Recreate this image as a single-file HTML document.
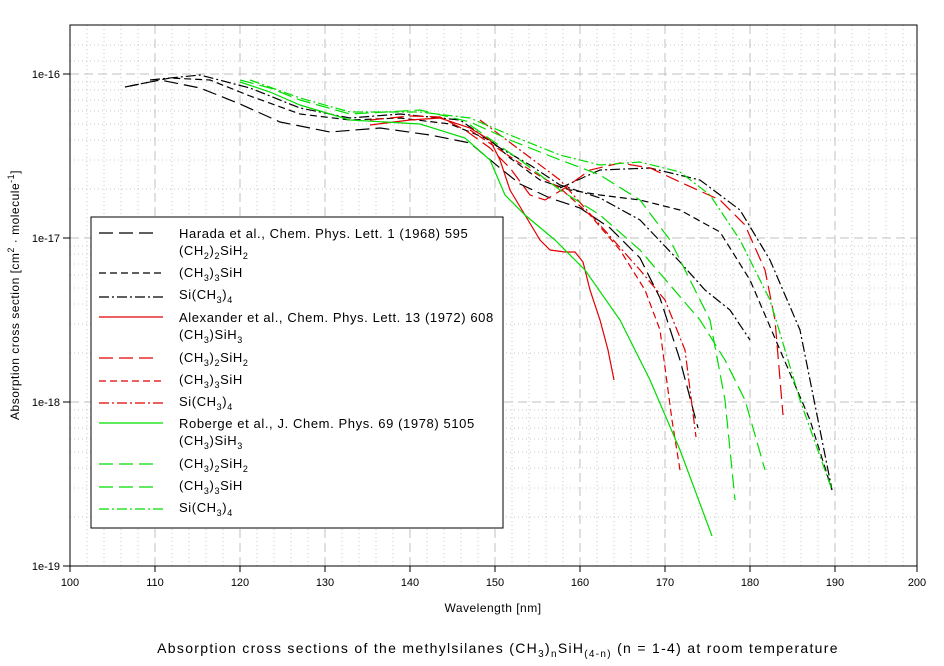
<!DOCTYPE html>
<html><head><meta charset="utf-8"><style>
body{margin:0;background:#fff;}
svg{display:block;font-family:"Liberation Sans",sans-serif;}
.lg{font-size:13px;fill:#000;letter-spacing:0.6px;}
</style></head><body>
<svg width="944" height="666" viewBox="0 0 944 666" xmlns="http://www.w3.org/2000/svg">
<rect width="944" height="666" fill="#fff"/>
<g stroke="#c8c8c8" stroke-width="1" stroke-dasharray="1,3" fill="none">
<path d="M87 25V566M104 25V566M121 25V566M138 25V566M172 25V566M189 25V566M206 25V566M223 25V566M257 25V566M274 25V566M291 25V566M308 25V566M342 25V566M359 25V566M376 25V566M393 25V566M427 25V566M444 25V566M461 25V566M478 25V566M512 25V566M529 25V566M546 25V566M563 25V566M597 25V566M614 25V566M631 25V566M648 25V566M682 25V566M699 25V566M716 25V566M733 25V566M767 25V566M784 25V566M801 25V566M818 25V566M852 25V566M869 25V566M886 25V566M903 25V566"/>
<path d="M70 517H917M70 488H917M70 468H917M70 452H917M70 439H917M70 428H917M70 418H917M70 410H917M70 353H917M70 324H917M70 304H917M70 288H917M70 275H917M70 264H917M70 254H917M70 246H917M70 189H917M70 160H917M70 140H917M70 124H917M70 111H917M70 100H917M70 90H917M70 82H917M70 45H917M70 61H917"/>
</g>
<g stroke="#c0c0c0" stroke-width="1" stroke-dasharray="9,5" fill="none">
<path d="M155 25V566M240 25V566M325 25V566M410 25V566M495 25V566M580 25V566M665 25V566M750 25V566M835 25V566"/>
<path d="M70 74H917M70 238H917M70 402H917"/>
</g>
<rect x="70" y="25" width="847" height="541" fill="none" stroke="#000" stroke-width="1"/>
<g stroke="#000"><path d="M63 74H70M63 238H70M63 402H70M63 566H70M70 566V572M155 566V572M240 566V572M325 566V572M410 566V572M495 566V572M580 566V572M665 566V572M750 566V572M835 566V572M917 566V572"/></g>
<g font-size="11" text-anchor="end"><text x="60" y="78">1e-16</text><text x="60" y="242">1e-17</text><text x="60" y="406">1e-18</text><text x="60" y="570">1e-19</text></g>
<g font-size="11" text-anchor="middle"><text x="70" y="586">100</text><text x="155" y="586">110</text><text x="240" y="586">120</text><text x="325" y="586">130</text><text x="410" y="586">140</text><text x="495" y="586">150</text><text x="580" y="586">160</text><text x="665" y="586">170</text><text x="750" y="586">180</text><text x="835" y="586">190</text><text x="917" y="586">200</text></g>
<text x="493" y="612" font-size="12" text-anchor="middle" letter-spacing="0.5">Wavelength [nm]</text>
<text transform="translate(19,295) rotate(-90)" font-size="12" text-anchor="middle" letter-spacing="0.5">Absorption cross section [cm<tspan font-size="9" dy="-5">2</tspan><tspan dy="5"> · molecule</tspan><tspan font-size="9" dy="-5">-1</tspan><tspan dy="5">]</tspan></text>
<text x="498" y="653" font-size="14" text-anchor="middle" letter-spacing="1.3">Absorption cross sections of the methylsilanes (CH<tspan font-size="10" dy="4">3</tspan><tspan dy="-4">)</tspan><tspan font-size="10" dy="4">n</tspan><tspan dy="-4">SiH</tspan><tspan font-size="10" dy="4">(4-n)</tspan><tspan dy="-4"> (n = 1-4) at room temperature</tspan></text>
<g fill="none" stroke-width="1.2">
<path stroke="#000" stroke-dasharray="14,6" d="M125 87L160 80L200 88L240 104L280 122L330 132L380 128L430 135L470 143L500 168L520 184L550 198L580 208L610 228L640 258L660 298L680 360L698 428"/>
<path stroke="#000" stroke-dasharray="7,4" d="M130 86L170 78L210 80L250 96L300 114L350 120L400 118L450 124L490 140L510 158L540 180L570 190L600 195L640 200L680 210L720 232L750 280L780 350L810 420L832 490"/>
<path stroke="#000" stroke-dasharray="10,3,2,3" d="M150 80L200 75L250 88L300 108L350 118L400 114L460 120L500 148L530 165L560 185L600 198L640 220L680 262L705 290L730 310L750 340"/>
<path stroke="#000" stroke-dasharray="10,3,2,3" d="M560 188L600 170L650 168L700 180L740 210L770 260L800 330L832 490"/>
<path stroke="#e00000" d="M370 125L410 120L440 118L470 128L490 140L500 160L510 190L525 215L540 240L550 250L565 252L575 252L583 262L590 290L600 320L608 350L614 380"/>
<path stroke="#e00000" stroke-dasharray="14,6" d="M370 120L410 116L440 117L465 130L490 148L510 168L530 195L545 200L565 188L590 170L620 163L650 168L680 182L720 200L745 225L765 270L775 320L783 415"/>
<path stroke="#e00000" stroke-dasharray="7,4" d="M470 130L500 150L530 170L560 188L590 215L620 250L645 290L660 330L672 420L680 470"/>
<path stroke="#e00000" stroke-dasharray="10,3,2,3" d="M480 120L520 150L560 180L600 225L640 270L665 300L685 350L696 437"/>
<path stroke="#00dd00" d="M240 82L270 92L300 105L350 120L420 124L465 138L490 160L505 195L525 215L555 240L585 270L620 320L650 380L680 450L712 536"/>
<path stroke="#00dd00" stroke-dasharray="14,6" d="M240 80L270 88L300 100L350 114L420 110L470 122L510 140L550 156L600 175L640 200L670 240L690 280L710 320L725 400L735 500"/>
<path stroke="#00dd00" stroke-dasharray="14,6" d="M470 125L520 160L560 190L600 215L640 250L670 285L700 320L725 360L745 400L765 470"/>
<path stroke="#00dd00" stroke-dasharray="10,3,2,3" d="M250 80L300 98L350 112L420 112L470 118L510 135L560 155L600 165L640 162L680 172L710 195L740 240L770 300L800 400L832 490"/>
</g>
<rect x="91" y="217" width="412" height="311" fill="#fff" stroke="#000"/>
<g stroke-width="1.2">
<line x1="99" y1="233" x2="158" y2="233" stroke="#000" stroke-dasharray="14,6"/>
<line x1="99" y1="273" x2="163" y2="273" stroke="#000" stroke-dasharray="7,4"/>
<line x1="99" y1="297" x2="163" y2="297" stroke="#000" stroke-dasharray="10,3,2,3"/>
<line x1="99" y1="317" x2="163" y2="317" stroke="#e00000"/>
<line x1="99" y1="358" x2="158" y2="358" stroke="#e00000" stroke-dasharray="14,6"/>
<line x1="99" y1="381" x2="163" y2="381" stroke="#e00000" stroke-dasharray="7,4"/>
<line x1="99" y1="403" x2="163" y2="403" stroke="#e00000" stroke-dasharray="10,3,2,3"/>
<line x1="99" y1="423" x2="163" y2="423" stroke="#00dd00"/>
<line x1="99" y1="464" x2="158" y2="464" stroke="#00dd00" stroke-dasharray="14,6"/>
<line x1="99" y1="487" x2="158" y2="487" stroke="#00dd00" stroke-dasharray="14,6"/>
<line x1="99" y1="509" x2="163" y2="509" stroke="#00dd00" stroke-dasharray="10,3,2,3"/>
</g>
<g class="lg">
<text x="179" y="238">Harada et al., Chem. Phys. Lett. 1 (1968) 595</text>
<text x="179" y="255">(CH<tspan font-size="9" dy="4">2</tspan><tspan dy="-4">)</tspan><tspan font-size="9" dy="4">2</tspan><tspan dy="-4">SiH</tspan><tspan font-size="9" dy="4">2</tspan></text>
<text x="179" y="277">(CH<tspan font-size="9" dy="4">3</tspan><tspan dy="-4">)</tspan><tspan font-size="9" dy="4">3</tspan><tspan dy="-4">SiH</tspan></text>
<text x="179" y="299">Si(CH<tspan font-size="9" dy="4">3</tspan><tspan dy="-4">)</tspan><tspan font-size="9" dy="4">4</tspan></text>
<text x="179" y="322">Alexander et al., Chem. Phys. Lett. 13 (1972) 608</text>
<text x="179" y="339">(CH<tspan font-size="9" dy="4">3</tspan><tspan dy="-4">)SiH</tspan><tspan font-size="9" dy="4">3</tspan></text>
<text x="179" y="362">(CH<tspan font-size="9" dy="4">3</tspan><tspan dy="-4">)</tspan><tspan font-size="9" dy="4">2</tspan><tspan dy="-4">SiH</tspan><tspan font-size="9" dy="4">2</tspan></text>
<text x="179" y="384">(CH<tspan font-size="9" dy="4">3</tspan><tspan dy="-4">)</tspan><tspan font-size="9" dy="4">3</tspan><tspan dy="-4">SiH</tspan></text>
<text x="179" y="406">Si(CH<tspan font-size="9" dy="4">3</tspan><tspan dy="-4">)</tspan><tspan font-size="9" dy="4">4</tspan></text>
<text x="179" y="428">Roberge et al., J. Chem. Phys. 69 (1978) 5105</text>
<text x="179" y="445">(CH<tspan font-size="9" dy="4">3</tspan><tspan dy="-4">)SiH</tspan><tspan font-size="9" dy="4">3</tspan></text>
<text x="179" y="468">(CH<tspan font-size="9" dy="4">3</tspan><tspan dy="-4">)</tspan><tspan font-size="9" dy="4">2</tspan><tspan dy="-4">SiH</tspan><tspan font-size="9" dy="4">2</tspan></text>
<text x="179" y="490">(CH<tspan font-size="9" dy="4">3</tspan><tspan dy="-4">)</tspan><tspan font-size="9" dy="4">3</tspan><tspan dy="-4">SiH</tspan></text>
<text x="179" y="512">Si(CH<tspan font-size="9" dy="4">3</tspan><tspan dy="-4">)</tspan><tspan font-size="9" dy="4">4</tspan></text>
</g>
</svg>
</body></html>
